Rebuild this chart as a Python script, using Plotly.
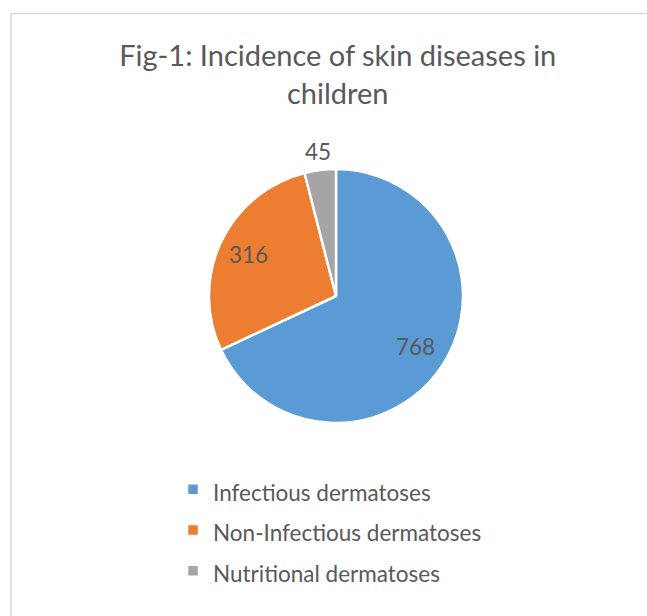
import math
import plotly.graph_objects as go

labels = ["Infectious dermatoses", "Non-Infectious dermatoses", "Nutritional dermatoses"]
values = [768, 316, 45]
colors = ["#5B9BD5", "#ED7D31", "#A5A5A5"]
title_text = "Fig-1: Incidence of skin diseases in<br>children"

W, H = 647, 616
cx, cy, r = 336, 296, 127
label_radius = [0.74, 0.76, 1.15]   # data-label distance from centre, in radii

FONT = "Lato"
TXT = "#595959"

legend_labels = [f"<span style='font-size:22.5px'>{l}</span>" for l in labels]

fig = go.Figure(go.Pie(
    labels=legend_labels,
    values=values,
    sort=False,
    direction="clockwise",
    rotation=0,
    marker=dict(colors=colors, line=dict(color="white", width=2.5)),
    textinfo="none",
    hoverinfo="label+value",
    domain=dict(x=[(cx - r) / W, (cx + r) / W], y=[1 - (cy + r) / H, 1 - (cy - r) / H]),
))

# data labels placed along each slice's bisector (computed from the values)
total = sum(values)
annotations = []
cum = 0
for v, k in zip(values, label_radius):
    mid = (cum + v / 2) / total * 2 * math.pi
    cum += v
    px = cx + math.sin(mid) * r * k
    py = cy - math.cos(mid) * r * k
    annotations.append(dict(x=px / W, y=1 - py / H, xref="paper", yref="paper",
                            text=str(v), showarrow=False, xanchor="center", yanchor="middle",
                            font=dict(family=FONT, size=22.5, color=TXT)))

fig.update_layout(
    width=W, height=H,
    margin=dict(l=0, r=0, t=0, b=0),
    paper_bgcolor="white",
    plot_bgcolor="white",
    title=dict(text=title_text, x=0.522, xanchor="center", y=1 - 66 / H, yanchor="middle",
               font=dict(family=FONT, size=29, color=TXT)),
    showlegend=True,
    legend=dict(x=173 / W, xanchor="left", y=1 - 464 / H, yanchor="top",
                font=dict(family=FONT, size=29, color=TXT), bgcolor="rgba(0,0,0,0)"),
    annotations=annotations,
    shapes=[dict(type="rect", xref="paper", yref="paper",
                 x0=11 / W, x1=1.02, y0=-0.02, y1=1 - 13.5 / H,
                 line=dict(color="#D9D9D9", width=1.5), fillcolor="rgba(0,0,0,0)", layer="below")],
)

fig.write_html("out.html")
